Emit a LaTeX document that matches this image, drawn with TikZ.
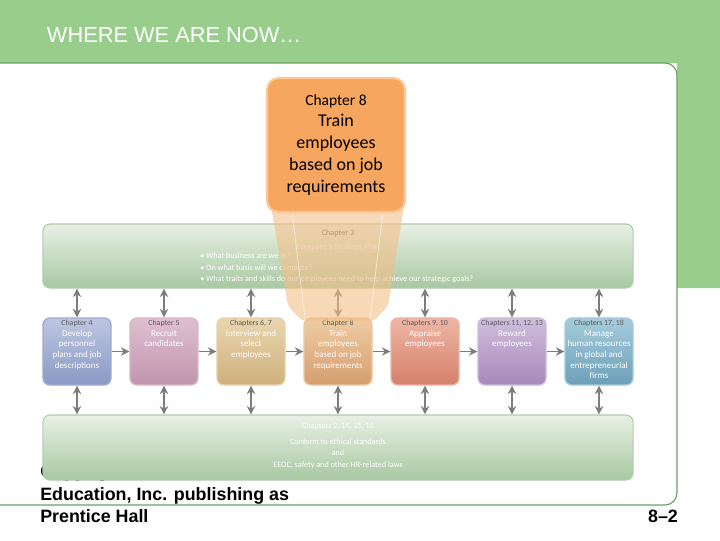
\documentclass[tikz,border=0pt]{standalone}
\usepackage{fontspec}
\setmainfont{Liberation Sans}
\newfontfamily\boxfont{Carlito}
\usetikzlibrary{positioning,arrows.meta}

\definecolor{band}{RGB}{153,205,140}
\definecolor{rim}{RGB}{105,160,100}
\definecolor{orangebox}{RGB}{247,166,95}
\definecolor{orangerim}{RGB}{250,200,150}
\definecolor{funnel}{RGB}{243,190,135}
\definecolor{greentop}{RGB}{232,240,228}
\definecolor{greenbot}{RGB}{168,200,162}
\definecolor{greenrim}{RGB}{178,204,172}
\definecolor{linkgray}{RGB}{125,125,125}
\definecolor{labelgray}{RGB}{90,90,90}

\tikzset{
  plan/.style={draw=greenrim, line width=0.8pt, rounded corners=5pt,
    top color=greentop, bottom color=greenbot, minimum width=14.75cm},
  chapbox/.style={line width=1pt, rounded corners=5pt,
    minimum width=1.7cm, minimum height=1.675cm},
  chaptext/.style={inner sep=0pt, align=center, text=white,
    font=\boxfont\fontsize{6.4}{7.6}\selectfont},
  plantext/.style={inner sep=0pt, text=white,
    font=\boxfont\fontsize{5.8}{8}\selectfont},
  link/.style={draw=linkgray, line width=1.3pt, -{Stealth[length=6pt,width=6pt]}},
  both/.style={draw=linkgray, line width=1.3pt,
    {Stealth[length=6pt,width=6pt]}-{Stealth[length=6pt,width=6pt]}},
  foot/.style={inner sep=0pt, anchor=base west,
    font=\bfseries\fontsize{12.7}{15.6}\selectfont},
}
\newcommand\chaplabel[1]{{\color{labelgray}\fontsize{5.6}{7.6}\selectfont #1}}

\begin{document}
\begin{tikzpicture}[x=0.025cm, y=-0.025cm]
        \useasboundingbox (0,0) rectangle (720,540);
        % green frame and white sheet
        \fill[band] (0,0) -- (720,0) -- (720,288) -- (677,288) -- (677,63) -- (0,63) -- cycle;
        \draw[rim, fill=white, line width=0.8pt, rounded corners=0.3cm]
            (-5,63) -- (677,63) -- (677,505) -- (-5,505);
        \node[anchor=west, text=white, font=\fontsize{15.5}{18}\selectfont] (title) at (42,35) {WHERE WE ARE NOW\ldots};
        % footer (first line lies under the lower green box)
        \node[foot] (copy) at (40,477) {Copyright \textcopyright{} 2008 Pearson};
        \node[foot] (edu) at (40,500) {Education, Inc. publishing as};
        \node[foot] (ph) at (40,522) {Prentice Hall};
        \node[foot, anchor=base] (page) at (663,522) {8--2};

        % strategic plan on top, legal frame at the bottom
        \node[plan, minimum height=1.6cm] (plan) at (338,256) {};
        \node[plantext] (plan head) at (338,233) {\textcolor{labelgray}{Chapter 3}};
        \node[plantext, below=1.6mm of plan head] (plan title) {Company's Strategic Plan};
        \node[plantext, align=left, anchor=north west] (plan list) at (200,253)
            {\textbullet\ What business are we in?\\
             \textbullet\ On what basis will we compete?\\
             \textbullet\ What traits and skills do our employees need to help achieve our strategic goals?};
        \node[plan, minimum height=1.625cm] (laws) at (338,447.5) {};
        \node[plantext] (laws head) at (338,426) {Chapters 2, 14, 15, 16};
        \node[plantext, align=center, below=2.2mm of laws head] (laws list)
            {Conform to ethical standards\\and\\EEOC, safety and other HR-related laws};

        % the seven steps
        \node[chapbox, draw={rgb,255:red,160;green,172;blue,212}, top color={rgb,255:red,190;green,198;blue,225}, bottom color={rgb,255:red,138;green,153;blue,196}] (c4) at (77,351.5) {};
        \node[chapbox, draw={rgb,255:red,215;green,185;blue,202}, top color={rgb,255:red,222;green,192;blue,208}, bottom color={rgb,255:red,194;green,148;blue,174}] (c5) at (164,351.5) {};
        \node[chapbox, draw={rgb,255:red,230;green,210;blue,172}, top color={rgb,255:red,234;green,214;blue,175}, bottom color={rgb,255:red,206;green,176;blue,124}] (c67) at (251,351.5) {};
        \node[chapbox, draw={rgb,255:red,236;green,200;blue,162}, top color={rgb,255:red,238;green,204;blue,165}, bottom color={rgb,255:red,214;green,158;blue,110}] (c8) at (338,351.5) {};
        \node[chapbox, draw={rgb,255:red,234;green,180;blue,164}, top color={rgb,255:red,238;green,182;blue,165}, bottom color={rgb,255:red,212;green,128;blue,108}] (c910) at (425,351.5) {};
        \node[chapbox, draw={rgb,255:red,205;green,186;blue,218}, top color={rgb,255:red,208;green,190;blue,220}, bottom color={rgb,255:red,166;green,136;blue,186}] (c1113) at (512,351.5) {};
        \node[chapbox, draw={rgb,255:red,165;green,202;blue,218}, top color={rgb,255:red,165;green,204;blue,220}, bottom color={rgb,255:red,108;green,160;blue,184}] (c1718) at (599,351.5) {};
        % their texts
        \node[chaptext, below=0.6mm of c4.north] (t4) {\chaplabel{Chapter 4}\\Develop\\personnel\\plans and job\\descriptions};
        \node[chaptext, below=0.6mm of c5.north] (t5) {\chaplabel{Chapter 5}\\Recruit\\candidates};
        \node[chaptext, below=0.6mm of c67.north] (t67) {\chaplabel{Chapters 6, 7}\\Interview and\\select\\employees};
        \node[chaptext, below=0.6mm of c8.north] (t8) {\chaplabel{Chapter 8}\\Train\\employees\\based on job\\requirements};
        \node[chaptext, below=0.6mm of c910.north] (t910) {\chaplabel{Chapters 9, 10}\\Appraise\\employees};
        \node[chaptext, below=0.6mm of c1113.north] (t1113) {\chaplabel{Chapters 11, 12, 13}\\Reward\\employees};
        \node[chaptext, below=0.6mm of c1718.north] (t1718) {\chaplabel{Chapters 17, 18}\\Manage\\human resources\\in global and\\entrepreneurial\\firms};

        % links along the row
        \draw[link] (c4) -- (c5);
        \draw[link] (c5) -- (c67);
        \draw[link] (c67) -- (c8);
        \draw[link] (c8) -- (c910);
        \draw[link] (c910) -- (c1113);
        \draw[link] (c1113) -- (c1718);
        % links up to the plan and down to the laws
        \draw[both] (c4.north |- plan.south) -- (c4.north);
        \draw[both] (c5.north |- plan.south) -- (c5.north);
        \draw[both] (c67.north |- plan.south) -- (c67.north);
        \draw[both] (c8.north |- plan.south) -- (c8.north);
        \draw[both] (c910.north |- plan.south) -- (c910.north);
        \draw[both] (c1113.north |- plan.south) -- (c1113.north);
        \draw[both] (c1718.north |- plan.south) -- (c1718.north);
        \draw[both] (c4.south) -- (c4.south |- laws.north);
        \draw[both] (c5.south) -- (c5.south |- laws.north);
        \draw[both] (c67.south) -- (c67.south |- laws.north);
        \draw[both] (c8.south) -- (c8.south |- laws.north);
        \draw[both] (c910.south) -- (c910.south |- laws.north);
        \draw[both] (c1113.south) -- (c1113.south |- laws.north);
        \draw[both] (c1718.south) -- (c1718.south |- laws.north);

        % the spotlight from the big box down to chapter 8
        \fill[funnel, opacity=0.6, rounded corners=0.12cm]
            (270,200) -- (288,306) -- (302,321) -- (374,321) -- (388,306) -- (405,200) -- cycle;
        \draw[white, opacity=0.6, line width=0.5pt] (292,212) -- (305,318);
        \draw[white, opacity=0.6, line width=0.5pt] (383,212) -- (370,318);
        \node[draw=orangerim, fill=orangebox, line width=1.5pt, rounded corners=0.3cm,
              minimum width=3.45cm, minimum height=3.35cm] (focus) at (336,145) {};
        \node[align=center, inner sep=0pt, font=\boxfont\fontsize{12.8}{15.6}\selectfont] (focus text) at (focus)
            {{\fontsize{11}{15.6}\selectfont Chapter 8}\\Train\\employees\\based on job\\requirements};
\end{tikzpicture}
\end{document}
